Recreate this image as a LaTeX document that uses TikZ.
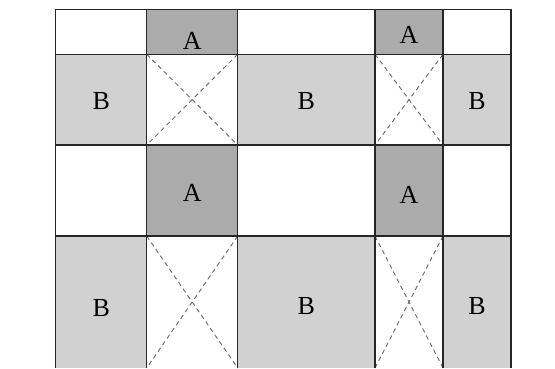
\documentclass[tikz,border=0pt]{standalone}
\usepackage{fontspec}
\setmainfont{Liberation Serif}
\begin{document}
\begin{tikzpicture}[x=1pt,y=-1pt,
  darkcell/.style={fill=black!33},
  lightcell/.style={fill=black!18},
  gridline/.style={draw=black!85,line width=1.4pt},
  cross/.style={draw=black!55,dash pattern=on 4.5pt off 3.5pt,line width=1pt},
  lbl/.style={font=\fontsize{26}{30}\selectfont,inner sep=0pt}]
\useasboundingbox (0,0) rectangle (555,369);
% column and row positions
\def\cA{55.7}\def\cB{146.7}\def\cC{237.7}\def\cD{375}\def\cE{443}\def\cF{511}
\def\rA{9.3}\def\rB{54.3}\def\rC{145}\def\rD{236}\def\rE{368}
% fills
\fill[darkcell] (\cB,\rA) rectangle (\cC,\rB);
\fill[darkcell] (\cD,\rA) rectangle (\cE,\rB);
\fill[darkcell] (\cB,\rC) rectangle (\cC,\rD);
\fill[darkcell] (\cD,\rC) rectangle (\cE,\rD);
\fill[lightcell] (\cA,\rB) rectangle (\cB,\rC);
\fill[lightcell] (\cC,\rB) rectangle (\cD,\rC);
\fill[lightcell] (\cE,\rB) rectangle (\cF,\rC);
\fill[lightcell] (\cA,\rD) rectangle (\cB,\rE);
\fill[lightcell] (\cC,\rD) rectangle (\cD,\rE);
\fill[lightcell] (\cE,\rD) rectangle (\cF,\rE);
% corner coordinates of crossed cells
\coordinate (x1tl) at (\cB,\rB); \coordinate (x1tr) at (\cC,\rB);
\coordinate (x1bl) at (\cB,\rC); \coordinate (x1br) at (\cC,\rC);
\coordinate (x2tl) at (\cD,\rB); \coordinate (x2tr) at (\cE,\rB);
\coordinate (x2bl) at (\cD,\rC); \coordinate (x2br) at (\cE,\rC);
\coordinate (x3tl) at (\cB,\rD); \coordinate (x3tr) at (\cC,\rD);
\coordinate (x3bl) at (\cB,\rE); \coordinate (x3br) at (\cC,\rE);
\coordinate (x4tl) at (\cD,\rD); \coordinate (x4tr) at (\cE,\rD);
\coordinate (x4bl) at (\cD,\rE); \coordinate (x4br) at (\cE,\rE);
\foreach \k in {1,2,3,4}{
  \draw[cross] (x\k tl) -- (x\k br);
  \draw[cross] (x\k tr) -- (x\k bl);
}
% grid lines
\draw[gridline] (\cA,\rA) -- (\cF,\rA);
\draw[gridline] (\cA,\rB) -- (\cF,\rB);
\draw[gridline] (\cA,\rC) -- (\cF,\rC);
\draw[gridline] (\cA,\rD) -- (\cF,\rD);
\foreach \c in {\cA,\cB,\cC,\cD,\cE,\cF}{
  \draw[gridline] (\c,\rA) -- (\c,\rE);
}
% labels
\node[lbl] (a1) at (192.2,41) {A};
\node[lbl] (a2) at (409,35) {A};
\node[lbl] (a3) at (192.2,193) {A};
\node[lbl] (a4) at (409,195) {A};
\node[lbl] (b1) at (101.2,101) {B};
\node[lbl] (b2) at (306.3,101) {B};
\node[lbl] (b3) at (477,101) {B};
\node[lbl] (b4) at (101.2,308) {B};
\node[lbl] (b5) at (306.3,306) {B};
\node[lbl] (b6) at (477,306) {B};
\end{tikzpicture}
\end{document}
